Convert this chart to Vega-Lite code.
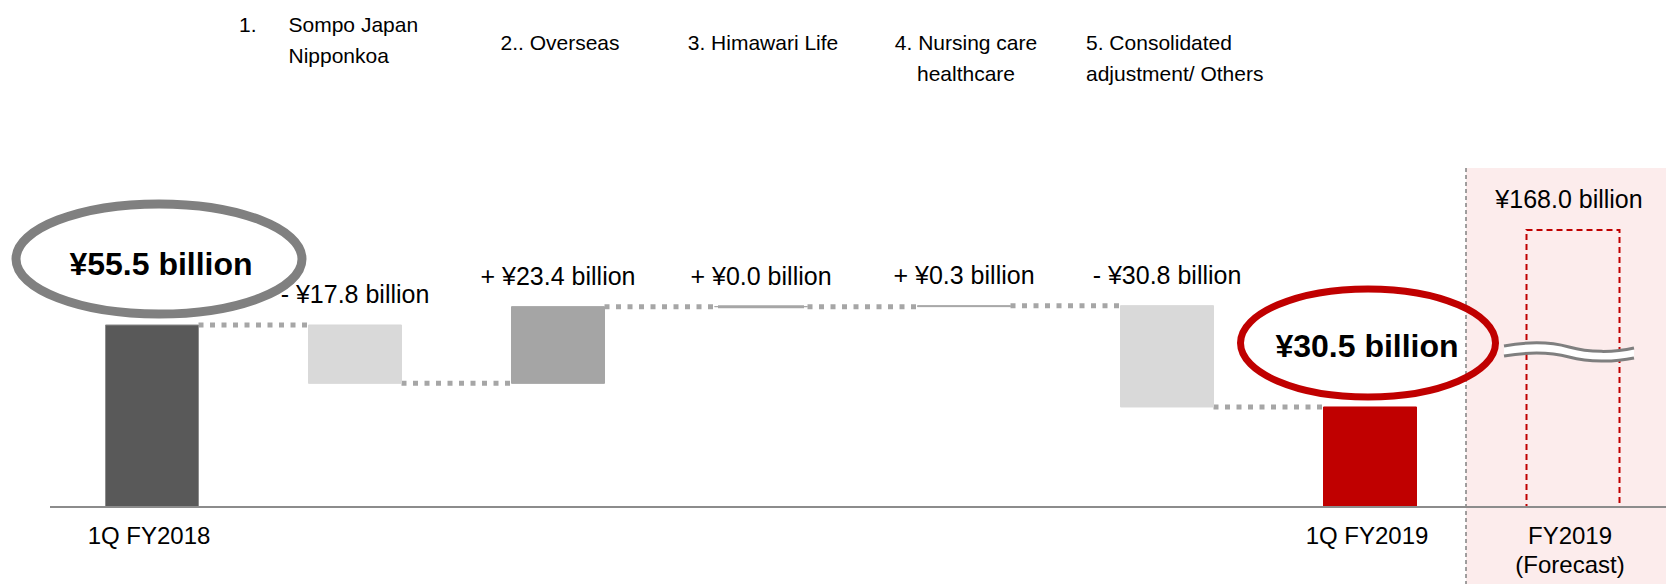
{
  "$schema": "https://vega.github.io/schema/vega-lite/v6.json",
  "width": 1666,
  "height": 584,
  "autosize": "none",
  "padding": 0,
  "background": "#FFFFFF",
  "config": {"view": {"stroke": null}, "text": {"font": "Liberation Sans", "color": "#000000"}},
  "datasets": {
    "steps": [
      {"i": 0, "name": "1Q FY2018", "kind": "total18", "start": 0, "end": 55.5, "hi": 55.5},
      {"i": 1, "name": "Sompo Japan Nipponkoa", "kind": "decrease", "start": 55.5, "end": 37.7, "hi": 55.5, "change": "- ¥17.8 billion"},
      {"i": 2, "name": "Overseas", "kind": "increase", "start": 37.7, "end": 61.1, "hi": 61.1, "change": "+ ¥23.4 billion"},
      {"i": 3, "name": "Himawari Life", "kind": "flat", "start": 61.1, "end": 61.1, "hi": 61.1, "change": "+ ¥0.0 billion"},
      {"i": 4, "name": "Nursing care healthcare", "kind": "flat", "start": 61.1, "end": 61.4, "hi": 61.4, "change": "+ ¥0.3 billion"},
      {"i": 5, "name": "Consolidated adjustment/ Others", "kind": "decrease", "start": 61.4, "end": 30.5, "hi": 61.4, "change": "- ¥30.8 billion"},
      {"i": 6, "name": "1Q FY2019", "kind": "total19", "start": 0, "end": 30.5, "hi": 30.5}
    ],
    "connectors": [
      {"i": 0, "j": 1, "level": 55.5},
      {"i": 1, "j": 2, "level": 37.7},
      {"i": 2, "j": 3, "level": 61.1},
      {"i": 3, "j": 4, "level": 61.1},
      {"i": 4, "j": 5, "level": 61.4},
      {"i": 5, "j": 6, "level": 30.5}
    ],
    "totals": [
      {"i": 0, "value": 55.5, "label": "¥55.5 billion"},
      {"i": 6, "value": 30.5, "label": "¥30.5 billion"}
    ],
    "forecast": [
      {"i": 7, "value": 168.0, "label": "¥168.0 billion"}
    ],
    "headers": [
      {"i": 1, "group": "num", "text": "1."},
      {"i": 1, "group": "sompo", "text": "Sompo Japan\nNipponkoa"},
      {"i": 2, "group": "center", "text": "2.. Overseas"},
      {"i": 3, "group": "center", "text": "3. Himawari Life"},
      {"i": 4, "group": "center", "text": "4. Nursing care\nhealthcare"},
      {"i": 5, "group": "left", "text": "5. Consolidated\nadjustment/ Others"}
    ],
    "periods": [
      {"i": 0, "text": "1Q FY2018"},
      {"i": 6, "text": "1Q FY2019"},
      {"i": 7, "text": "FY2019\n(Forecast)"}
    ]
  },
  "layer": [
    {
      "data": {"values": [{"region": "forecast"}]},
      "mark": {"type": "rect", "color": "#FCECEC"},
      "encoding": {
        "x": {"datum": 6.4729, "type": "quantitative", "scale": {"domain": [-0.7488, 7.4581], "nice": false, "zero": false}, "axis": null},
        "x2": {"datum": 7.4581},
        "y": {"datum": 103.37, "type": "quantitative", "scale": {"domain": [-23.48, 154.6], "nice": false, "zero": false}, "axis": null},
        "y2": {"datum": -23.48}
      }
    },
    {
      "data": {"values": [{"region": "separator"}]},
      "mark": {"type": "rule", "color": "#808080", "strokeWidth": 1.5, "strokeDash": [4, 3]},
      "encoding": {
        "x": {"datum": 6.4729, "type": "quantitative", "scale": {"domain": [-0.7488, 7.4581], "nice": false, "zero": false}, "axis": null},
        "y": {"datum": 103.37, "type": "quantitative", "scale": {"domain": [-23.48, 154.6], "nice": false, "zero": false}, "axis": null},
        "y2": {"datum": -23.48}
      }
    },
    {
      "data": {"name": "connectors"},
      "mark": {"type": "rule", "color": "#A6A6A6", "strokeWidth": 5, "strokeDash": [5, 6.5], "strokeCap": "butt", "xOffset": 46.5, "x2Offset": -46.5},
      "encoding": {
        "x": {"field": "i", "type": "quantitative", "scale": {"domain": [-0.7488, 7.4581], "nice": false, "zero": false}, "axis": null},
        "x2": {"field": "j"},
        "y": {"field": "level", "type": "quantitative", "scale": {"domain": [-23.48, 154.6], "nice": false, "zero": false}, "axis": null}
      }
    },
    {
      "data": {"name": "steps"},
      "mark": {"type": "rect", "xOffset": -46.5, "x2Offset": 46.5},
      "encoding": {
        "x": {"field": "i", "type": "quantitative", "scale": {"domain": [-0.7488, 7.4581], "nice": false, "zero": false}, "axis": null},
        "x2": {"field": "i"},
        "y": {"field": "start", "type": "quantitative", "scale": {"domain": [-23.48, 154.6], "nice": false, "zero": false}, "axis": null},
        "y2": {"field": "end"},
        "color": {"field": "kind", "type": "nominal", "legend": null, "scale": {"domain": ["total18", "decrease", "increase", "flat", "total19"], "range": ["#595959", "#D9D9D9", "#A5A5A5", "#A6A6A6", "#C00000"]}},
        "stroke": {"field": "kind", "type": "nominal", "legend": null, "scale": {"domain": ["total18", "decrease", "increase", "flat", "total19"], "range": ["#8C8C8C", "#D9D9D9", "#A5A5A5", "#A6A6A6", "#C00000"]}}
      }
    },
    {
      "data": {"name": "steps"},
      "transform": [{"filter": "datum.i == 3"}],
      "mark": {"type": "rule", "color": "#A6A6A6", "strokeWidth": 3, "xOffset": -43, "x2Offset": 43},
      "encoding": {
        "x": {"field": "i", "type": "quantitative", "scale": {"domain": [-0.7488, 7.4581], "nice": false, "zero": false}, "axis": null},
        "x2": {"field": "i"},
        "y": {"field": "end", "type": "quantitative", "scale": {"domain": [-23.48, 154.6], "nice": false, "zero": false}, "axis": null}
      }
    },
    {
      "data": {"name": "forecast"},
      "mark": {"type": "rect", "fillOpacity": 0, "stroke": "#C00000", "strokeWidth": 2, "strokeDash": [6, 4], "xOffset": -46.5, "x2Offset": 46.5},
      "encoding": {
        "x": {"field": "i", "type": "quantitative", "scale": {"domain": [-0.7488, 7.4581], "nice": false, "zero": false}, "axis": null},
        "x2": {"field": "i"},
        "y": {"datum": 0, "type": "quantitative", "scale": {"domain": [-23.48, 154.6], "nice": false, "zero": false}, "axis": null},
        "y2": {"datum": 84.47}
      }
    },
    {
      "data": {"values": [{"line": "baseline"}]},
      "mark": {"type": "rule", "color": "#8C8C8C", "strokeWidth": 2},
      "encoding": {
        "x": {"datum": -0.5025, "type": "quantitative", "scale": {"domain": [-0.7488, 7.4581], "nice": false, "zero": false}, "axis": null},
        "x2": {"datum": 7.4581},
        "y": {"datum": 0, "type": "quantitative", "scale": {"domain": [-23.48, 154.6], "nice": false, "zero": false}, "axis": null}
      }
    },
    {
      "data": {"name": "forecast"},
      "mark": {"type": "point", "shape": "M -1 -0.092 C -0.615 -0.164 -0.308 -0.164 0 -0.077 C 0.308 0.01 0.692 0.01 1 -0.062 L 1 0.092 C 0.692 0.158 0.308 0.158 0 0.077 C -0.308 -0.005 -0.615 -0.005 -1 0.062 Z", "filled": true, "fill": "#FFFFFF", "strokeWidth": 0, "opacity": 1, "size": 16900, "xOffset": -4},
      "encoding": {
        "x": {"field": "i", "type": "quantitative", "scale": {"domain": [-0.7488, 7.4581], "nice": false, "zero": false}, "axis": null},
        "y": {"datum": 47.26, "type": "quantitative", "scale": {"domain": [-23.48, 154.6], "nice": false, "zero": false}, "axis": null}
      }
    },
    {
      "data": {"name": "forecast"},
      "mark": {"type": "point", "shape": "M -1 -0.092 C -0.615 -0.164 -0.308 -0.164 0 -0.077 C 0.308 0.01 0.692 0.01 1 -0.062 M 1 0.092 C 0.692 0.158 0.308 0.158 0 0.077 C -0.308 -0.005 -0.615 -0.005 -1 0.062", "filled": false, "stroke": "#7F7F7F", "strokeWidth": 3, "opacity": 1, "size": 16900, "xOffset": -4},
      "encoding": {
        "x": {"field": "i", "type": "quantitative", "scale": {"domain": [-0.7488, 7.4581], "nice": false, "zero": false}, "axis": null},
        "y": {"datum": 47.26, "type": "quantitative", "scale": {"domain": [-23.48, 154.6], "nice": false, "zero": false}, "axis": null}
      }
    },
    {
      "data": {"name": "totals"},
      "transform": [{"filter": "datum.i == 0"}],
      "mark": {"type": "point", "shape": "M -1 0 C -1 -0.2126 -0.5523 -0.385 0 -0.385 C 0.5523 -0.385 1 -0.2126 1 0 C 1 0.2126 0.5523 0.385 0 0.385 C -0.5523 0.385 -1 0.2126 -1 0 Z", "filled": false, "stroke": "#808080", "strokeWidth": 9, "opacity": 1, "size": 81796, "xOffset": 7, "yOffset": -66},
      "encoding": {
        "x": {"field": "i", "type": "quantitative", "scale": {"domain": [-0.7488, 7.4581], "nice": false, "zero": false}, "axis": null},
        "y": {"field": "value", "type": "quantitative", "scale": {"domain": [-23.48, 154.6], "nice": false, "zero": false}, "axis": null}
      }
    },
    {
      "data": {"name": "totals"},
      "transform": [{"filter": "datum.i == 6"}],
      "mark": {"type": "point", "shape": "M -1 0 C -1 -0.2342 -0.5523 -0.424 0 -0.424 C 0.5523 -0.424 1 -0.2342 1 0 C 1 0.2342 0.5523 0.424 0 0.424 C -0.5523 0.424 -1 0.2342 -1 0 Z", "filled": false, "stroke": "#C00000", "strokeWidth": 7, "opacity": 1, "size": 65025, "xOffset": -2, "yOffset": -64},
      "encoding": {
        "x": {"field": "i", "type": "quantitative", "scale": {"domain": [-0.7488, 7.4581], "nice": false, "zero": false}, "axis": null},
        "y": {"field": "value", "type": "quantitative", "scale": {"domain": [-23.48, 154.6], "nice": false, "zero": false}, "axis": null}
      }
    },
    {
      "data": {"name": "totals"},
      "transform": [{"filter": "datum.i == 0"}],
      "mark": {"type": "text", "fontSize": 32, "fontWeight": "bold", "align": "center", "baseline": "alphabetic", "dx": 9, "dy": -50},
      "encoding": {
        "x": {"field": "i", "type": "quantitative", "scale": {"domain": [-0.7488, 7.4581], "nice": false, "zero": false}, "axis": null},
        "y": {"field": "value", "type": "quantitative", "scale": {"domain": [-23.48, 154.6], "nice": false, "zero": false}, "axis": null},
        "text": {"field": "label", "type": "nominal"}
      }
    },
    {
      "data": {"name": "totals"},
      "transform": [{"filter": "datum.i == 6"}],
      "mark": {"type": "text", "fontSize": 32, "fontWeight": "bold", "align": "center", "baseline": "alphabetic", "dx": -3, "dy": -50},
      "encoding": {
        "x": {"field": "i", "type": "quantitative", "scale": {"domain": [-0.7488, 7.4581], "nice": false, "zero": false}, "axis": null},
        "y": {"field": "value", "type": "quantitative", "scale": {"domain": [-23.48, 154.6], "nice": false, "zero": false}, "axis": null},
        "text": {"field": "label", "type": "nominal"}
      }
    },
    {
      "data": {"name": "steps"},
      "transform": [{"filter": "isValid(datum.change)"}],
      "mark": {"type": "text", "fontSize": 25, "align": "center", "baseline": "alphabetic", "dy": -22},
      "encoding": {
        "x": {"field": "i", "type": "quantitative", "scale": {"domain": [-0.7488, 7.4581], "nice": false, "zero": false}, "axis": null},
        "y": {"field": "hi", "type": "quantitative", "scale": {"domain": [-23.48, 154.6], "nice": false, "zero": false}, "axis": null},
        "text": {"field": "change", "type": "nominal"}
      }
    },
    {
      "data": {"name": "forecast"},
      "mark": {"type": "text", "fontSize": 25, "align": "center", "baseline": "alphabetic", "dx": -4, "dy": -22},
      "encoding": {
        "x": {"field": "i", "type": "quantitative", "scale": {"domain": [-0.7488, 7.4581], "nice": false, "zero": false}, "axis": null},
        "y": {"datum": 84.47, "type": "quantitative", "scale": {"domain": [-23.48, 154.6], "nice": false, "zero": false}, "axis": null},
        "text": {"field": "label", "type": "nominal"}
      }
    },
    {
      "data": {"name": "headers"},
      "transform": [{"filter": "datum.group == 'num'"}],
      "mark": {"type": "text", "fontSize": 21, "align": "left", "baseline": "alphabetic", "lineBreak": "\n", "lineHeight": 31, "dx": -116},
      "encoding": {
        "x": {"field": "i", "type": "quantitative", "scale": {"domain": [-0.7488, 7.4581], "nice": false, "zero": false}, "axis": null},
        "y": {"datum": 144.95, "type": "quantitative", "scale": {"domain": [-23.48, 154.6], "nice": false, "zero": false}, "axis": null},
        "text": {"field": "text", "type": "nominal"}
      }
    },
    {
      "data": {"name": "headers"},
      "transform": [{"filter": "datum.group == 'sompo'"}],
      "mark": {"type": "text", "fontSize": 21, "align": "left", "baseline": "alphabetic", "lineBreak": "\n", "lineHeight": 31, "dx": -66.5},
      "encoding": {
        "x": {"field": "i", "type": "quantitative", "scale": {"domain": [-0.7488, 7.4581], "nice": false, "zero": false}, "axis": null},
        "y": {"datum": 144.95, "type": "quantitative", "scale": {"domain": [-23.48, 154.6], "nice": false, "zero": false}, "axis": null},
        "text": {"field": "text", "type": "nominal"}
      }
    },
    {
      "data": {"name": "headers"},
      "transform": [{"filter": "datum.group == 'center'"}],
      "mark": {"type": "text", "fontSize": 21, "align": "center", "baseline": "alphabetic", "lineBreak": "\n", "lineHeight": 31, "dx": 2},
      "encoding": {
        "x": {"field": "i", "type": "quantitative", "scale": {"domain": [-0.7488, 7.4581], "nice": false, "zero": false}, "axis": null},
        "y": {"datum": 139.37, "type": "quantitative", "scale": {"domain": [-23.48, 154.6], "nice": false, "zero": false}, "axis": null},
        "text": {"field": "text", "type": "nominal"}
      }
    },
    {
      "data": {"name": "headers"},
      "transform": [{"filter": "datum.group == 'left'"}],
      "mark": {"type": "text", "fontSize": 21, "align": "left", "baseline": "alphabetic", "lineBreak": "\n", "lineHeight": 31, "dx": -81},
      "encoding": {
        "x": {"field": "i", "type": "quantitative", "scale": {"domain": [-0.7488, 7.4581], "nice": false, "zero": false}, "axis": null},
        "y": {"datum": 139.37, "type": "quantitative", "scale": {"domain": [-23.48, 154.6], "nice": false, "zero": false}, "axis": null},
        "text": {"field": "text", "type": "nominal"}
      }
    },
    {
      "data": {"name": "periods"},
      "mark": {"type": "text", "fontSize": 24, "align": "center", "baseline": "alphabetic", "lineBreak": "\n", "lineHeight": 29, "dx": -3},
      "encoding": {
        "x": {"field": "i", "type": "quantitative", "scale": {"domain": [-0.7488, 7.4581], "nice": false, "zero": false}, "axis": null},
        "y": {"datum": -11.43, "type": "quantitative", "scale": {"domain": [-23.48, 154.6], "nice": false, "zero": false}, "axis": null},
        "text": {"field": "text", "type": "nominal"}
      }
    }
  ]
}
